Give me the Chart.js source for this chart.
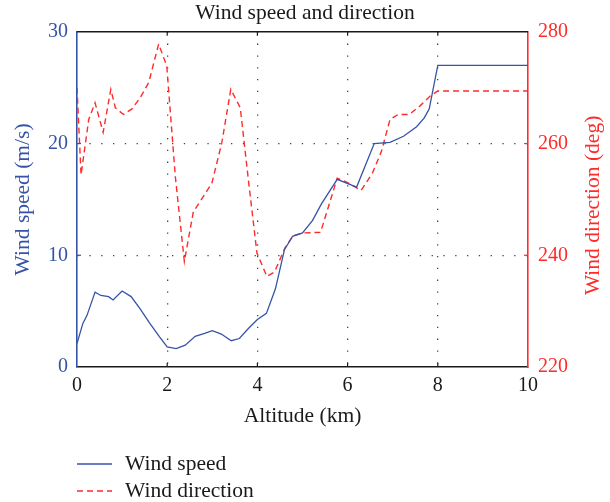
<!DOCTYPE html>
<html>
<head>
<meta charset="utf-8">
<script src="https://cdn.jsdelivr.net/npm/chart.js@4.4.1/dist/chart.umd.min.js"></script>
<style>
  html, body { margin: 0; padding: 0; background: #fff; }
  #wrap { width: 610px; height: 502px; }
</style>
</head>
<body>
<div id="wrap"><canvas id="wind"></canvas></div>
<script>
// Sounding profile: wind speed and direction against altitude
const speedAltKm = [0, 0.13, 0.22, 0.4, 0.53, 0.7, 0.8, 1.0, 1.2, 1.4, 1.6, 1.83, 2.0, 2.2, 2.4, 2.62, 2.83, 3.0, 3.2, 3.42, 3.6, 3.8, 4.0, 4.2, 4.4, 4.6, 4.78, 5.0, 5.22, 5.42, 5.77, 6.2, 6.59, 6.94, 7.24, 7.53, 7.7, 7.81, 8.0, 10];
const speedMs    = [2.1, 3.9, 4.6, 6.7, 6.4, 6.3, 6.0, 6.8, 6.3, 5.2, 4.0, 2.7, 1.8, 1.65, 1.95, 2.75, 3.0, 3.25, 2.95, 2.35, 2.55, 3.45, 4.25, 4.8, 7.0, 10.5, 11.7, 12.0, 13.1, 14.6, 16.8, 16.1, 20.0, 20.1, 20.65, 21.5, 22.3, 23.1, 27.0, 27.0];

const dirAltKm = [0, 0.09, 0.26, 0.4, 0.58, 0.75, 0.85, 1.03, 1.22, 1.4, 1.59, 1.81, 1.99, 2.18, 2.38, 2.58, 2.8, 2.99, 3.21, 3.41, 3.62, 3.8, 3.99, 4.21, 4.38, 4.61, 4.79, 5.02, 5.4, 5.77, 5.98, 6.3, 6.55, 6.75, 6.94, 7.12, 7.37, 7.6, 7.83, 8.0, 10];
const dirDeg   = [270, 254.4, 264.3, 267.3, 262, 269.7, 266.4, 265.2, 266.2, 268.2, 270.9, 277.8, 273.9, 254.1, 238.9, 247.8, 250.5, 252.9, 260.1, 269.7, 266.4, 253.5, 240.4, 236.2, 237, 241.3, 243.5, 244, 244.1, 253.8, 253.1, 251.6, 254.7, 258.6, 264.3, 265.2, 265.2, 266.7, 268.5, 269.4, 269.4];

const altRange = [0, 10];
const speedRange = [0, 30];
const dirRange = [220, 280];

const SERIF = "'Liberation Serif', 'DejaVu Serif', serif";
const BLUE = '#3653a6';
const RED = '#ff2a2a';
const INK = '#1a1a1a';
const DOTS = '#444';
const LABEL_SIZE = 21.5;
const TICK_SIZE = 20;

const toPoints = (xs, ys) => xs.map((x, i) => ({ x, y: ys[i] }));

// grid lines only inside the frame, the edges are drawn by the borders
const innerGrid = (lo, hi) => ctx => {
  const v = ctx.tick && ctx.tick.value;
  return (v > lo && v < hi) ? DOTS : 'rgba(0,0,0,0)';
};

// top border, inward tick marks, right-hand title and the legend under the axis
const framePlugin = {
  id: 'frame',
  afterDraw(chart) {
    const { ctx, chartArea: a, scales } = chart;
    const tickLen = 4;
    ctx.save();

    ctx.strokeStyle = INK;
    ctx.lineWidth = 1.6;
    ctx.beginPath();
    ctx.moveTo(a.left, a.top);
    ctx.lineTo(a.right, a.top);
    ctx.stroke();

    ctx.lineWidth = 1.2;
    scales.x.ticks.forEach(t => {
      if (t.value <= altRange[0] || t.value >= altRange[1]) return;
      const px = scales.x.getPixelForValue(t.value);
      ctx.beginPath();
      ctx.moveTo(px, a.top); ctx.lineTo(px, a.top + tickLen);
      ctx.moveTo(px, a.bottom); ctx.lineTo(px, a.bottom - tickLen);
      ctx.stroke();
    });

    ctx.strokeStyle = BLUE;
    scales.y.ticks.forEach(t => {
      if (t.value <= speedRange[0] || t.value >= speedRange[1]) return;
      const py = scales.y.getPixelForValue(t.value);
      ctx.beginPath(); ctx.moveTo(a.left, py); ctx.lineTo(a.left + tickLen, py); ctx.stroke();
    });

    ctx.strokeStyle = RED;
    scales.yDir.ticks.forEach(t => {
      if (t.value <= dirRange[0] || t.value >= dirRange[1]) return;
      const py = scales.yDir.getPixelForValue(t.value);
      ctx.beginPath(); ctx.moveTo(a.right, py); ctx.lineTo(a.right - tickLen, py); ctx.stroke();
    });

    // right axis title reads bottom-to-top like the left one
    ctx.fillStyle = RED;
    ctx.font = `${LABEL_SIZE}px ${SERIF}`;
    ctx.textAlign = 'center';
    ctx.textBaseline = 'middle';
    ctx.translate(593, (a.top + a.bottom) / 2 + 6);
    ctx.rotate(-Math.PI / 2);
    ctx.fillText('Wind direction (deg)', 0, 0);
    ctx.setTransform(1, 0, 0, 1, 0, 0);

    // legend
    ctx.textAlign = 'left';
    ctx.fillStyle = INK;
    chart.data.datasets.forEach((ds, i) => {
      const y = 464 + i * 27;
      ctx.strokeStyle = ds.borderColor;
      ctx.lineWidth = ds.borderWidth;
      ctx.setLineDash(ds.borderDash || []);
      ctx.beginPath(); ctx.moveTo(77, y); ctx.lineTo(112, y); ctx.stroke();
      ctx.setLineDash([]);
      ctx.fillText(ds.label, 125, y);
    });
    ctx.restore();
  }
};

new Chart(document.getElementById('wind'), {
  type: 'line',
  data: {
    datasets: [{
      label: 'Wind speed',
      data: toPoints(speedAltKm, speedMs),
      yAxisID: 'y',
      borderColor: BLUE,
      borderWidth: 1.3,
      pointRadius: 0,
      tension: 0,
      fill: false
    }, {
      label: 'Wind direction',
      data: toPoints(dirAltKm, dirDeg),
      yAxisID: 'yDir',
      borderColor: RED,
      borderWidth: 1.4,
      borderDash: [6, 4],
      pointRadius: 0,
      tension: 0,
      fill: false
    }]
  },
  options: {
    responsive: true,
    maintainAspectRatio: false,
    animation: false,
    layout: { padding: 0 },
    scales: {
      x: {
        type: 'linear',
        min: altRange[0],
        max: altRange[1],
        ticks: { stepSize: 2, color: INK, padding: 7, maxRotation: 0, font: { family: SERIF, size: TICK_SIZE } },
        grid: { color: innerGrid(altRange[0], altRange[1]), lineWidth: 1.3, drawTicks: false },
        border: { display: true, color: INK, width: 1.6, dash: [1.3, 10.5] },
        title: {
          display: true,
          text: 'Altitude (km)',
          color: INK,
          font: { family: SERIF, size: LABEL_SIZE },
          padding: { top: 4, bottom: 73 }
        },
        afterFit: s => { s.height = 135; }
      },
      y: {
        position: 'left',
        min: speedRange[0],
        max: speedRange[1],
        ticks: { stepSize: 10, color: BLUE, padding: 9, font: { family: SERIF, size: TICK_SIZE } },
        grid: { color: innerGrid(speedRange[0], speedRange[1]), lineWidth: 1.3, drawTicks: false },
        border: { display: true, color: BLUE, width: 1.6, dash: [1.3, 10.5] },
        title: {
          display: true,
          text: 'Wind speed (m/s)',
          color: BLUE,
          font: { family: SERIF, size: LABEL_SIZE },
          padding: { top: 10, bottom: 0 }
        },
        afterFit: s => { s.width = 77; }
      },
      yDir: {
        position: 'right',
        min: dirRange[0],
        max: dirRange[1],
        ticks: { stepSize: 20, color: RED, padding: 10, font: { family: SERIF, size: TICK_SIZE } },
        grid: { display: false, drawTicks: false },
        border: { display: true, color: RED, width: 1.6 },
        afterFit: s => { s.width = 82; }
      }
    },
    plugins: {
      legend: { display: false },
      tooltip: { enabled: false },
      title: {
        display: true,
        text: 'Wind speed and direction',
        color: INK,
        font: { family: SERIF, size: LABEL_SIZE, weight: 'normal' },
        padding: { top: 0, bottom: 6 }
      }
    }
  },
  plugins: [framePlugin]
});
</script>
</body>
</html>
